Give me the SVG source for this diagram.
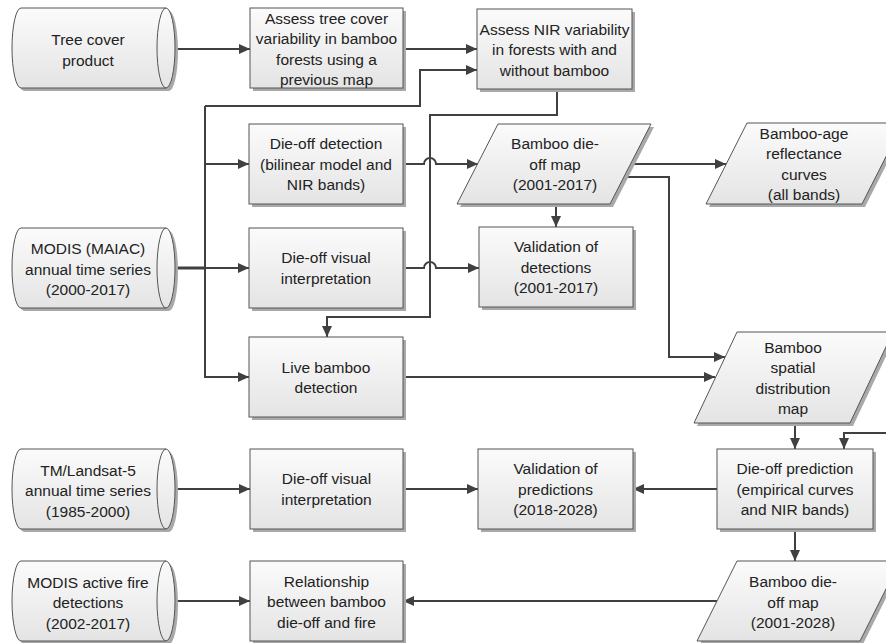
<svg xmlns="http://www.w3.org/2000/svg" width="886" height="643" viewBox="0 0 886 643">
<defs>
<linearGradient id="g" x1="0" y1="0" x2="0" y2="1">
<stop offset="0" stop-color="#fbfbfb"/>
<stop offset="1" stop-color="#e4e4e4"/>
</linearGradient>
<marker id="a" markerUnits="userSpaceOnUse" markerWidth="12" markerHeight="11" refX="11" refY="5" orient="auto">
<path d="M0,0 L11,5 L0,10 Z" fill="#404040"/>
</marker>
<style>
.box{fill:url(#g);stroke:#555;stroke-width:1}
.sh{fill:#a9a9a9}
.ln{fill:none;stroke:#555;stroke-width:1}
.t{font-family:"Liberation Sans",Arial,sans-serif;font-size:15.5px;fill:#222;text-anchor:middle}
.c{fill:none;stroke:#404040;stroke-width:2;marker-end:url(#a)}
.cn{fill:none;stroke:#404040;stroke-width:2}
</style>
</defs>
<rect width="886" height="643" fill="#fff"/>

<g id="connectors">
<path class="c" d="M165,49 H250"/>
<path class="c" d="M403,49 H477"/>
<path class="c" d="M205,106 H420 V70 H477"/>
<path class="c" d="M205,106 V377 H249"/>
<path class="c" d="M205,164 H249"/>
<path class="cn" d="M165,268 H206" style="stroke-width:3"/>
<path class="c" d="M165,268 H249"/>
<path class="c" d="M403,164 H424 A6,6 0 0 1 436,164 H478"/>
<path class="c" d="M403,268 H424 A6,6 0 0 1 436,268 H479"/>
<path class="c" d="M557,89 V115 H430 V317 H327 V337"/>
<path class="c" d="M556,204 V227"/>
<path class="c" d="M631,164 H726"/>
<path class="c" d="M624,177 H669 V357 H725"/>
<path class="c" d="M403,377 H715"/>
<path class="c" d="M882,164 H895 V433 H844 V449"/>
<path class="c" d="M795,423 V449"/>
<path class="c" d="M717,489 H633"/>
<path class="c" d="M165,489 H250"/>
<path class="c" d="M403,489 H478"/>
<path class="c" d="M795,529 V561"/>
<path class="c" d="M165,601 H250"/>
<path class="c" d="M717,601 H403"/>
</g>

<g id="tree-cover">
<path class="sh" transform="translate(3,3)" d="M21,8 H166 A9,40 0 0 1 166,88 H21 A9,40 0 0 1 21,8 Z"/>
<path class="box" d="M21,8 H166 A9,40 0 0 1 166,88 H21 A9,40 0 0 1 21,8 Z"/>
<path class="ln" d="M166,8 A9,40 0 0 0 166,88"/>
<text class="t"><tspan x="88" y="45">Tree cover</tspan><tspan x="88" y="65.5">product</tspan></text>
</g>

<g id="modis-maiac">
<path class="sh" transform="translate(3,3)" d="M21,228 H166 A9,40 0 0 1 166,308 H21 A9,40 0 0 1 21,228 Z"/>
<path class="box" d="M21,228 H166 A9,40 0 0 1 166,308 H21 A9,40 0 0 1 21,228 Z"/>
<path class="ln" d="M166,228 A9,40 0 0 0 166,308"/>
<text class="t"><tspan x="88" y="254">MODIS (MAIAC)</tspan><tspan x="88" y="274.5">annual time series</tspan><tspan x="88" y="295">(2000-2017)</tspan></text>
</g>

<g id="tm-landsat">
<path class="sh" transform="translate(3,3)" d="M21,449 H166 A9,40 0 0 1 166,529 H21 A9,40 0 0 1 21,449 Z"/>
<path class="box" d="M21,449 H166 A9,40 0 0 1 166,529 H21 A9,40 0 0 1 21,449 Z"/>
<path class="ln" d="M166,449 A9,40 0 0 0 166,529"/>
<text class="t"><tspan x="88" y="475.5">TM/Landsat-5</tspan><tspan x="88" y="496">annual time series</tspan><tspan x="88" y="516.5">(1985-2000)</tspan></text>
</g>

<g id="modis-fire">
<path class="sh" transform="translate(3,3)" d="M21,561 H166 A9,40 0 0 1 166,641 H21 A9,40 0 0 1 21,561 Z"/>
<path class="box" d="M21,561 H166 A9,40 0 0 1 166,641 H21 A9,40 0 0 1 21,561 Z"/>
<path class="ln" d="M166,561 A9,40 0 0 0 166,641"/>
<text class="t"><tspan x="88" y="587.5">MODIS active fire</tspan><tspan x="88" y="608">detections</tspan><tspan x="88" y="628.5">(2002-2017)</tspan></text>
</g>

<g id="assess-tree-cover">
<rect class="sh" x="253" y="11" width="153" height="80"/>
<rect class="box" x="250" y="8" width="153" height="80"/>
<text class="t"><tspan x="326.5" y="23.5">Assess tree cover</tspan><tspan x="326.5" y="44">variability in bamboo</tspan><tspan x="326.5" y="64.5">forests using a</tspan><tspan x="326.5" y="85">previous map</tspan></text>
</g>

<g id="assess-nir">
<rect class="sh" x="480" y="12" width="155" height="80"/>
<rect class="box" x="477" y="9" width="155" height="80"/>
<text class="t"><tspan x="554.5" y="34.5">Assess NIR variability</tspan><tspan x="554.5" y="55">in forests with and</tspan><tspan x="554.5" y="75.5">without bamboo</tspan></text>
</g>

<g id="dieoff-detection">
<rect class="sh" x="252" y="127" width="154" height="80"/>
<rect class="box" x="249" y="124" width="154" height="80"/>
<text class="t"><tspan x="326" y="149">Die-off detection</tspan><tspan x="326" y="169.5">(bilinear model and</tspan><tspan x="326" y="190">NIR bands)</tspan></text>
</g>

<g id="dieoff-visual">
<rect class="sh" x="252" y="231" width="154" height="80"/>
<rect class="box" x="249" y="228" width="154" height="80"/>
<text class="t"><tspan x="326" y="263">Die-off visual</tspan><tspan x="326" y="283.5">interpretation</tspan></text>
</g>

<g id="live-bamboo">
<rect class="sh" x="252" y="340" width="154" height="80"/>
<rect class="box" x="249" y="337" width="154" height="80"/>
<text class="t"><tspan x="326" y="372.5">Live bamboo</tspan><tspan x="326" y="393">detection</tspan></text>
</g>

<g id="dieoff-map-2017">
<path class="sh" transform="translate(3,3)" d="M498,124 H651 L610,204 H457 Z"/>
<path class="box" d="M498,124 H651 L610,204 H457 Z"/>
<text class="t"><tspan x="555" y="149">Bamboo die-</tspan><tspan x="555" y="169.5">off map</tspan><tspan x="555" y="190">(2001-2017)</tspan></text>
</g>

<g id="validation-detections">
<rect class="sh" x="482" y="230" width="154" height="80"/>
<rect class="box" x="479" y="227" width="154" height="80"/>
<text class="t"><tspan x="556" y="252">Validation of</tspan><tspan x="556" y="272.5">detections</tspan><tspan x="556" y="293">(2001-2017)</tspan></text>
</g>

<g id="bamboo-age">
<path class="sh" transform="translate(3,3)" d="M747,123 H903 L862,204 H706 Z"/>
<path class="box" d="M747,123 H903 L862,204 H706 Z"/>
<text class="t"><tspan x="804" y="138.5">Bamboo-age</tspan><tspan x="804" y="159">reflectance</tspan><tspan x="804" y="179.5">curves</tspan><tspan x="804" y="200">(all bands)</tspan></text>
</g>

<g id="spatial-map">
<path class="sh" transform="translate(3,3)" d="M737,332 H893 L850,423 H694 Z"/>
<path class="box" d="M737,332 H893 L850,423 H694 Z"/>
<text class="t"><tspan x="793" y="352.5">Bamboo</tspan><tspan x="793" y="373">spatial</tspan><tspan x="793" y="393.5">distribution</tspan><tspan x="793" y="414">map</tspan></text>
</g>

<g id="dieoff-prediction">
<rect class="sh" x="720" y="452" width="156" height="80"/>
<rect class="box" x="717" y="449" width="156" height="80"/>
<text class="t"><tspan x="795" y="474">Die-off prediction</tspan><tspan x="795" y="494.5">(empirical curves</tspan><tspan x="795" y="515">and NIR bands)</tspan></text>
</g>

<g id="validation-predictions">
<rect class="sh" x="481" y="452" width="155" height="80"/>
<rect class="box" x="478" y="449" width="155" height="80"/>
<text class="t"><tspan x="555.5" y="474">Validation of</tspan><tspan x="555.5" y="494.5">predictions</tspan><tspan x="555.5" y="515">(2018-2028)</tspan></text>
</g>

<g id="dieoff-visual-tm">
<rect class="sh" x="253" y="452" width="153" height="80"/>
<rect class="box" x="250" y="449" width="153" height="80"/>
<text class="t"><tspan x="326.5" y="484">Die-off visual</tspan><tspan x="326.5" y="504.5">interpretation</tspan></text>
</g>

<g id="dieoff-map-2028">
<path class="sh" transform="translate(3,3)" d="M737,561 H900 L860,641 H697 Z"/>
<path class="box" d="M737,561 H900 L860,641 H697 Z"/>
<text class="t"><tspan x="793" y="587">Bamboo die-</tspan><tspan x="793" y="607.5">off map</tspan><tspan x="793" y="628">(2001-2028)</tspan></text>
</g>

<g id="relationship">
<rect class="sh" x="253" y="564" width="153" height="80"/>
<rect class="box" x="250" y="561" width="153" height="80"/>
<text class="t"><tspan x="326.5" y="586.5">Relationship</tspan><tspan x="326.5" y="607">between bamboo</tspan><tspan x="326.5" y="627.5">die-off and fire</tspan></text>
</g>
</svg>
